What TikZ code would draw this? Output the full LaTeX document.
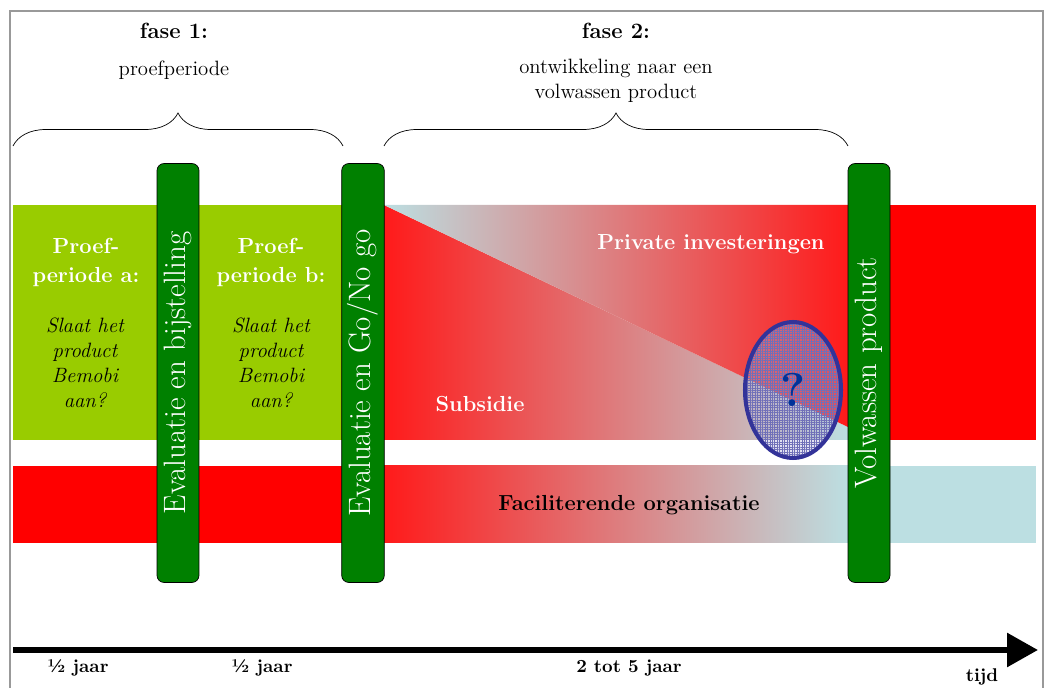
\documentclass[tikz,border=0pt]{standalone}
\usepackage{fontspec}
\usepackage{tikz}
\usetikzlibrary{positioning, arrows.meta, decorations.pathreplacing, shapes.geometric, patterns.meta}
\usepackage{xcolor}
\definecolor{lime}{HTML}{99CC00}
\definecolor{bargreen}{HTML}{008000}
\definecolor{bandred}{HTML}{FF1A1A}
\definecolor{paleblue}{HTML}{BCDFE2}
\definecolor{ringblue}{HTML}{333399}
\definecolor{markblue}{HTML}{003399}
\definecolor{framegrey}{HTML}{999999}
\tikzset{
    bar/.style={
        rectangle,
        rounded corners=4pt,
        draw=black,
        fill=bargreen,
        rotate=90,
        minimum width=8.38cm,
        minimum height=0.84cm,
        text=white,
        font=\fontsize{17.6}{18}\selectfont
    },
    brace/.style={
        decorate,
        decoration={brace, amplitude=0.66cm},
        thin
    },
    phase/.style={
        font=\fontsize{12.5}{14}\selectfont\bfseries
    },
    phasetext/.style={
        align=center,
        font=\fontsize{11.8}{14.5}\selectfont
    },
    whitetext/.style={
        text=white,
        align=center,
        font=\fontsize{12.4}{16.5}\selectfont\bfseries
    },
    question/.style={
        align=center,
        font=\fontsize{11.8}{14.2}\selectfont\itshape
    },
    ring/.style={
        ellipse,
        draw=ringblue,
        line width=2.3pt,
        minimum width=1.92cm,
        minimum height=2.72cm,
        preaction={fill=ringblue!40, fill opacity=0.35},
        pattern={Hatch[angle=0, distance=1.4pt, line width=0.4pt]},
        pattern color=ringblue!70,
        text=markblue,
        font=\fontsize{27}{27}\selectfont\bfseries
    },
    timeline/.style={
        line width=3.4pt,
        -{Triangle[length=0.62cm, width=0.66cm]}
    },
    duration/.style={
        font=\fontsize{10.5}{12}\selectfont\bfseries
    }
}
\begin{document}
\begin{tikzpicture}[x=0.02cm, y=-0.02cm]
\useasboundingbox (0,0) rectangle (1046,688);
\draw[framegrey, line width=1.2pt] (10,11) rectangle (1043,700);

%---------------- Phases ----------------

\node[phase] (fase1) at (174,31) {fase 1:};
\node[phasetext] (proef) at (174,70) {proefperiode};
\draw[brace] (13,146) -- (343,146);

\node[phase] (fase2) at (616,31) {fase 2:};
\node[phasetext] (ontw) at (616,81) {ontwikkeling naar een\\volwassen product};
\draw[brace] (384,146) -- (848,146);

%---------------- Upper band ----------------

\fill[lime] (13,205) rectangle (384,440);
\shade[left color=bandred, right color=paleblue] (384,205) -- (848,427) -- (848,440) -- (384,440) -- cycle;
\shade[left color=paleblue, right color=bandred] (384,205) -- (848,205) -- (848,427) -- cycle;
\fill[red] (848,205) rectangle (1036,440);

\node[whitetext] (pa) at (86,262) {Proef-\\periode a:};
\node[question] (qa) at (85,363) {Slaat het\\product\\Bemobi\\aan?};
\node[whitetext] (pb) at (271,262) {Proef-\\periode b:};
\node[question] (qb) at (271,363) {Slaat het\\product\\Bemobi\\aan?};

\node[whitetext] (sub) at (480,404) {Subsidie};
\node[whitetext] (priv) at (711,244) {Private investeringen};

%---------------- Lower band ----------------

\fill[red] (13,466) rectangle (384,543);
\shade[left color=bandred, right color=paleblue] (384,466) rectangle (848,543);
\fill[paleblue] (848,466) rectangle (1036,543);
\node[font=\fontsize{12.4}{14}\selectfont\bfseries] (fac) at (629,505) {Faciliterende organisatie};

\node[ring] (unsure) at (793,390) {?};

%---------------- Milestones ----------------

\node[bar] (m1) at (178,373) {Evaluatie en bijstelling};
\node[bar] (m2) at (363,373) {Evaluatie en Go/No go};
\node[bar] (m3) at (869,373) {Volwassen product};

%---------------- Time axis ----------------

\coordinate (t0) at (13,650);
\coordinate (t1) at (1038,650);
\draw[timeline] (t0) -- (t1);

\node[duration] (d1) at (78,668) {½ jaar};
\node[duration] (d2) at (262,668) {½ jaar};
\node[duration] (d3) at (629,668) {2 tot 5 jaar};
\node[duration] (tijd) at (982,677) {tijd};

\end{tikzpicture}
\end{document}
